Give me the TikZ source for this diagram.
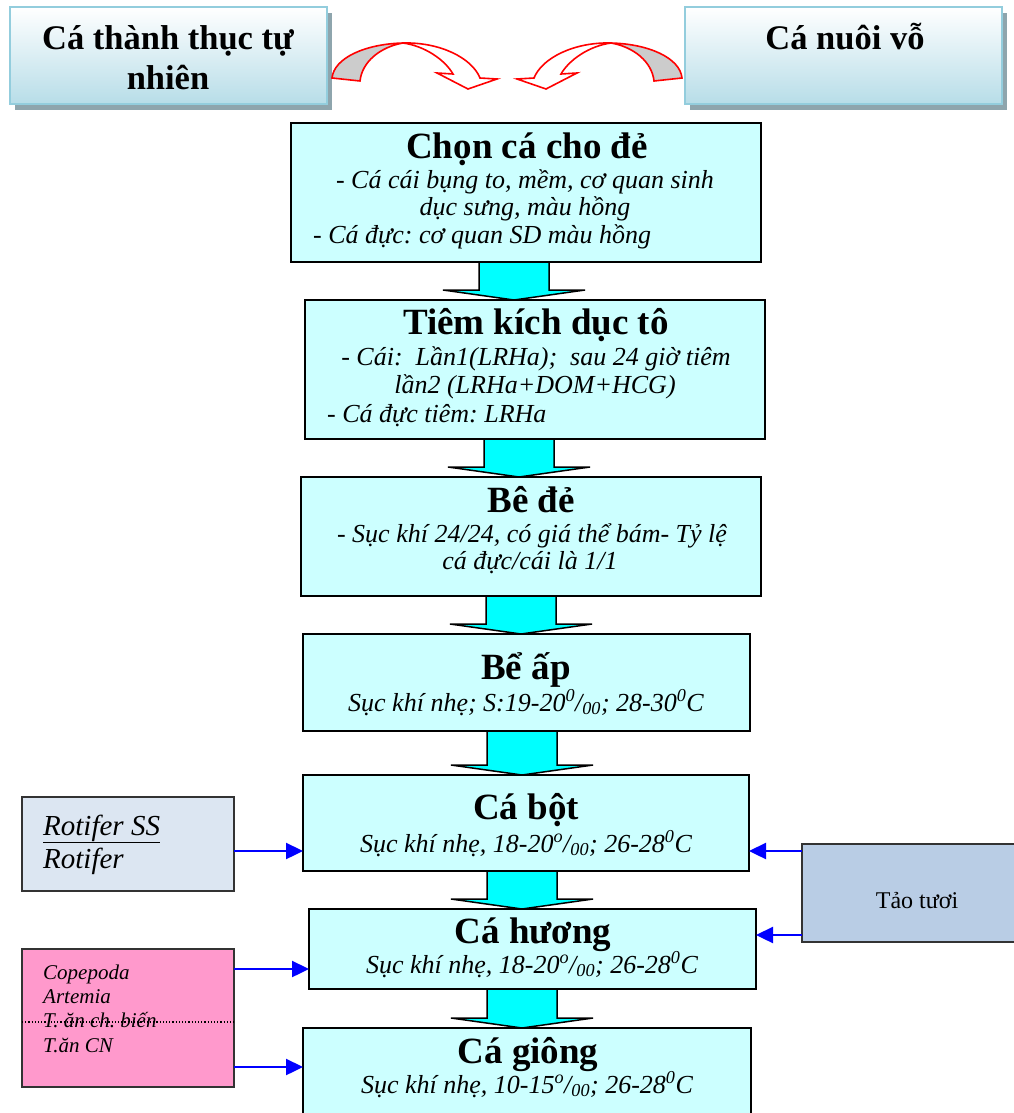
\documentclass[tikz,border=0pt]{standalone}
\usepackage{fontspec}
\setmainfont{Liberation Serif}
\usetikzlibrary{calc,shadows,arrows.meta}
\frenchspacing

\definecolor{boxcyan}{RGB}{204,255,255}
\definecolor{arrowcyan}{RGB}{0,255,255}
\definecolor{capblue}{RGB}{147,205,221}
\definecolor{capfill}{RGB}{183,221,232}
\definecolor{capshade}{RGB}{142,165,173}
\definecolor{rotblue}{RGB}{220,230,242}
\definecolor{feedpink}{RGB}{255,153,204}
\definecolor{algblue}{RGB}{185,205,229}
\definecolor{curlgray}{RGB}{204,204,204}

% fat cyan arrow from one step box down to the next one
\newcommand{\stepflow}[3]{%
  \draw[fatarrow] ($(#1.south -| o)+(#3-35,0)$) -- ($(#2.north -| o)+(#3-35,-10)$)
    -- ($(#2.north -| o)+(#3-71,-10)$) -- ($(#2.north -| o)+(#3,0)$)
    -- ($(#2.north -| o)+(#3+71,-10)$) -- ($(#2.north -| o)+(#3+35,-10)$)
    -- ($(#1.south -| o)+(#3+35,0)$) -- cycle;}

\begin{document}
\begin{tikzpicture}
[x=1pt,y=-1pt,
 stepbox/.style={draw=black,line width=1.5pt,fill=boxcyan,anchor=north west,inner sep=0pt,outer sep=0pt},
 capbox/.style={draw=capblue,line width=1.5pt,top color=white,bottom color=capfill,anchor=north west,
   inner sep=0pt,outer sep=0pt,minimum width=317,minimum height=97,
   drop shadow={shadow xshift=5pt,shadow yshift=-6pt,fill=capshade,opacity=1}},
 sidebox/.style={draw=black!80,line width=1.3pt,anchor=north west,inner sep=0pt,outer sep=0pt},
 head/.style={font=\fontsize{37}{40}\selectfont\bfseries,anchor=base,inner sep=0pt},
 note/.style={font=\fontsize{26}{28}\selectfont\itshape,anchor=base,inner sep=0pt},
 fatarrow/.style={draw=black,line width=1.5pt,fill=arrowcyan,line join=miter},
 feed/.style={draw=blue,line width=2.4pt,-{Triangle[length=17pt,width=16pt]}},
 curl/.style={draw=red,line width=1.6pt,line join=miter}]
\useasboundingbox (0,0) rectangle (1014,1113);
\coordinate (o) at (0,0);

% brood stock sources
\node[capbox] (wild) at (10,7) {};
\node[head,font=\fontsize{34.5}{40}\selectfont\bfseries] (wild-a) at (168,50) {Cá thành thục tự};
\node[head,font=\fontsize{34.5}{40}\selectfont\bfseries] (wild-b) at (168,90) {nhiên};
\node[capbox] (brood) at (685,7) {};
\node[head,font=\fontsize{34.5}{40}\selectfont\bfseries] (brood-t) at (845,50) {Cá nuôi vỗ};

\foreach \sx/\dx in {1/0,-1/1014}
{
\begin{scope}[shift={(\dx,0)},xscale=\sx]
\filldraw[curl,fill=curlgray] (332,78) .. controls (334,58) and (365,44) .. (403,43)
  .. controls (380,47) and (362,62) .. (360,81) -- cycle;
\filldraw[curl,fill=white] (403,43) .. controls (440,42) and (472,58) .. (480,78)
  -- (497,79) -- (468,89) -- (437,73) -- (453,74)
  .. controls (445,60) and (425,46) .. (403,43) -- cycle;
\end{scope}
}

% main steps
\node[stepbox,minimum width=470,minimum height=139] (chon) at (291,123) {};
\node[head] (chon-t) at (527,158) {Chọn cá cho đẻ};
\node[note] (chon-a) at (525,188) {- Cá cái bụng to, mềm, cơ quan sinh};
\node[note] (chon-b) at (525,215) {dục sưng, màu hồng};
\node[note,anchor=base west] (chon-c) at (313,243) {- Cá đực: cơ quan SD màu hồng};

\node[stepbox,minimum width=460,minimum height=139] (tiem) at (305,300) {};
\node[head] (tiem-t) at (536,334) {Tiêm kích dục tô};
\node[note] (tiem-a) at (536,365) {- Cái:\ \ Lần1(LRHa);\ \ sau 24 giờ tiêm};
\node[note] (tiem-b) at (535,393) {lần2 (LRHa+DOM+HCG)};
\node[note,anchor=base west] (tiem-c) at (327,422) {- Cá đực tiêm: LRHa};

\node[stepbox,minimum width=460,minimum height=119] (bede) at (301,477) {};
\node[head] (bede-t) at (531,512) {Bê đẻ};
\node[note] (bede-a) at (532,542) {- Sục khí 24/24, có giá thể bám- Tỷ lệ};
\node[note] (bede-b) at (530,569) {cá đực/cái là 1/1};

\node[stepbox,minimum width=447,minimum height=97] (beap) at (303,634) {};
\node[head] (beap-t) at (526,679) {Bể ấp};
\node[note] (beap-a) at (526,711) {Sục khí nhẹ; S:19-20\textsuperscript{0}/\textsubscript{00}; 28-30\textsuperscript{0}C};

\node[stepbox,minimum width=446,minimum height=96] (bot) at (303,775) {};
\node[head] (bot-t) at (526,819) {Cá bột};
\node[note] (bot-a) at (526,852) {Sục khí nhẹ, 18-20\textsuperscript{o}/\textsubscript{00}; 26-28\textsuperscript{0}C};

\node[stepbox,minimum width=447,minimum height=80] (huong) at (309,909) {};
\node[head] (huong-t) at (533,943) {Cá hương};
\node[note] (huong-a) at (532,973) {Sục khí nhẹ, 18-20\textsuperscript{o}/\textsubscript{00}; 26-28\textsuperscript{0}C};

\node[stepbox,minimum width=448,minimum height=100] (giong) at (303,1028) {};
\node[head] (giong-t) at (528,1063) {Cá giông};
\node[note] (giong-a) at (527,1093) {Sục khí nhẹ, 10-15\textsuperscript{o}/\textsubscript{00}; 26-28\textsuperscript{0}C};

\stepflow{chon}{tiem}{514}
\stepflow{tiem}{bede}{519}
\stepflow{bede}{beap}{521}
\stepflow{beap}{bot}{522}
\stepflow{bot}{huong}{522}
\stepflow{huong}{giong}{522}

% live feed
\node[sidebox,fill=rotblue,minimum width=212,minimum height=94] (rot) at (22,797) {};
\node[note,anchor=base west,font=\fontsize{29}{32}\selectfont\itshape] (rot-a) at (43,835) {\underline{Rotifer SS}};
\node[note,anchor=base west,font=\fontsize{29}{32}\selectfont\itshape] (rot-b) at (43,868) {Rotifer};

\node[sidebox,fill=feedpink,minimum width=212,minimum height=138] (pink) at (22,949) {};
\node[note,anchor=base west,font=\fontsize{21}{24}\selectfont\itshape] (pink-a) at (43,979) {Copepoda};
\node[note,anchor=base west,font=\fontsize{21}{24}\selectfont\itshape] (pink-b) at (43,1003) {Artemia};
\node[note,anchor=base west,font=\fontsize{21}{24}\selectfont\itshape] (pink-c) at (43,1027) {T. ăn ch. biến};
\node[note,anchor=base west,font=\fontsize{21}{24}\selectfont\itshape] (pink-d) at (43,1052) {T.ăn CN};
\draw[dotted,line width=1.2pt] ([yshift=-4pt]pink.west) -- ([yshift=-4pt]pink.east);

\node[sidebox,fill=algblue,minimum width=230,minimum height=98] (alg) at (802,844) {};
\node[anchor=base,inner sep=0pt,font=\fontsize{24}{28}\selectfont] (alg-t) at (917,908) {Tảo tươi};

\coordinate (rot-out) at ([yshift=-54pt]rot.north east);
\coordinate (pink-out1) at ([yshift=-20pt]pink.north east);
\coordinate (pink-out2) at ([yshift=-118pt]pink.north east);
\coordinate (alg-out1) at ([yshift=-7pt]alg.north west);
\coordinate (alg-out2) at ([yshift=-91pt]alg.north west);

\draw[feed] (rot-out) -- (rot-out -| bot.west);
\draw[feed] (pink-out1) -- (pink-out1 -| huong.west);
\draw[feed] (pink-out2) -- (pink-out2 -| giong.west);
\draw[feed] (alg-out1) -- (alg-out1 -| bot.east);
\draw[feed] (alg-out2) -- (alg-out2 -| huong.east);
\end{tikzpicture}
\end{document}
